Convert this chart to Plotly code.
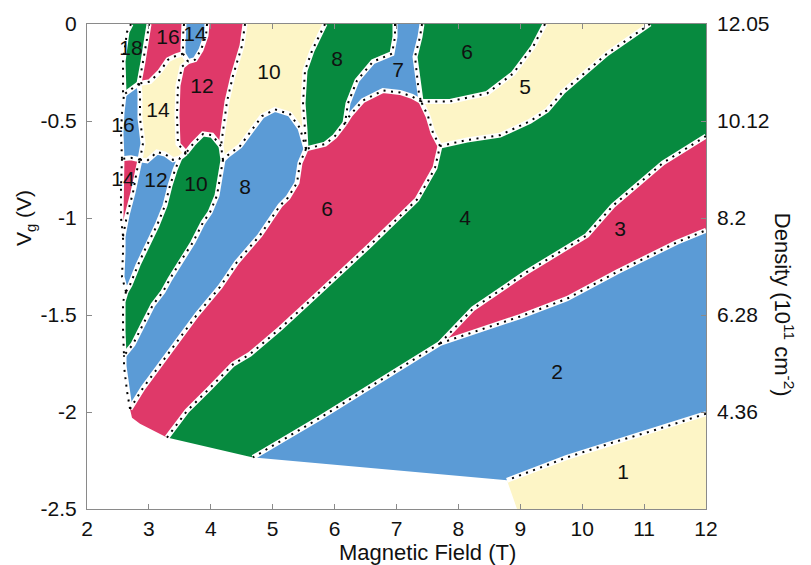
import plotly.graph_objects as go

# Fill colours of the quantum Hall phases
YELLOW = "#fdf5c6"
GREEN = "#078a3f"
PINK = "#df3969"
BLUE = "#5b9bd6"

# Phase boundaries as (B [T], Vg [V]) polylines; names give the two phases they separate
G18_W = [(2.711, 0.0), (2.646, -0.041), (2.582, -0.194), (2.582, -0.348), (2.598, -0.363)]
G18_P16 = [(3.002, 0.0), (2.969, -0.077), (2.905, -0.194), (2.840, -0.307)]
G18_B16 = [(2.840, -0.307), (2.711, -0.337), (2.598, -0.363)]
P16_B14 = [(3.567, 0.0), (3.551, -0.061), (3.551, -0.112), (3.551, -0.153)]
P16_Y14 = [(3.551, -0.153), (3.438, -0.164), (3.309, -0.184), (3.179, -0.245), (3.018, -0.297), (2.840, -0.307)]
B14_P12 = [(3.939, 0.0), (3.922, -0.061), (3.842, -0.133), (3.745, -0.184), (3.632, -0.194)]
B14_Y14 = [(3.551, -0.153), (3.632, -0.194)]
P12_Y10 = [(4.553, 0.0), (4.504, -0.112), (4.359, -0.266), (4.262, -0.399), (4.197, -0.552), (4.165, -0.629)]
P12_G10 = [(4.165, -0.629), (4.019, -0.573), (3.874, -0.567), (3.712, -0.619), (3.599, -0.665)]
P12_Y14 = [(3.599, -0.665), (3.470, -0.619), (3.454, -0.470), (3.470, -0.317), (3.535, -0.220), (3.632, -0.194)]
Y10_G8 = [(5.845, 0.0), (5.635, -0.138), (5.522, -0.240), (5.490, -0.409), (5.522, -0.547), (5.538, -0.644)]
Y10_B8 = [(5.538, -0.644), (5.441, -0.537), (5.279, -0.465), (5.037, -0.440), (4.827, -0.475),
          (4.666, -0.547), (4.472, -0.629), (4.278, -0.675), (4.197, -0.700)]
Y10_G10 = [(4.197, -0.700), (4.165, -0.629)]
G8_B7 = [(6.976, 0.0), (6.976, -0.066), (6.927, -0.153), (6.620, -0.194), (6.362, -0.291), (6.216, -0.409), (6.168, -0.511)]
G8_P6 = [(6.168, -0.511), (6.006, -0.578), (5.845, -0.619), (5.538, -0.644)]
B7_G6 = [(7.412, 0.0), (7.380, -0.066), (7.299, -0.169), (7.331, -0.256), (7.363, -0.358), (7.396, -0.399)]
B7_P6 = [(7.396, -0.399), (7.250, -0.373), (7.057, -0.353), (6.782, -0.343), (6.459, -0.394), (6.249, -0.470), (6.168, -0.511)]
G6_Y5 = [(9.399, 0.0), (9.205, -0.118), (8.882, -0.256), (8.462, -0.358), (7.864, -0.399), (7.396, -0.399)]
Y5_G4 = [(11.095, 0.0), (10.401, -0.153), (9.690, -0.348), (9.431, -0.445), (9.157, -0.501),
         (8.672, -0.573), (8.139, -0.598), (7.703, -0.629)]
Y5_P6 = [(7.703, -0.629), (7.590, -0.562), (7.509, -0.475), (7.396, -0.399)]
G4_P3 = [(12.0, -0.578), (11.305, -0.716), (10.498, -0.936), (10.078, -1.089), (9.108, -1.278), (8.236, -1.467), (7.703, -1.646)]
G4_B2 = [(7.703, -1.646), (7.057, -1.774), (5.764, -2.030), (4.682, -2.234)]
G4_P6 = [(3.292, -2.132), (3.616, -1.994), (3.987, -1.876), (4.359, -1.754), (4.633, -1.702), (5.118, -1.570),
         (5.764, -1.380), (6.572, -1.140), (7.331, -0.905), (7.493, -0.818), (7.622, -0.741), (7.703, -0.629)]
P3_B2 = [(7.703, -1.646), (8.624, -1.549), (8.995, -1.508), (9.754, -1.416), (10.562, -1.278), (11.531, -1.125), (12.0, -1.063)]
B2_Y1 = [(12.0, -2.009), (11.144, -2.096), (10.498, -2.157), (9.754, -2.234), (8.785, -2.352)]
B8_P6 = [(5.538, -0.644), (5.441, -0.716), (5.393, -0.818), (5.247, -0.895), (5.118, -0.936), (4.795, -1.089),
         (4.423, -1.227), (4.149, -1.355), (3.777, -1.498), (3.422, -1.651), (3.131, -1.774), (2.905, -1.876), (2.695, -1.984)]
B8_W = [(2.695, -1.984), (2.646, -1.892), (2.598, -1.764), (2.598, -1.708)]
G10_B8 = [(4.197, -0.700), (4.149, -0.782), (4.100, -0.884), (3.987, -0.971), (3.874, -1.023), (3.712, -1.125),
          (3.502, -1.227), (3.341, -1.314), (3.228, -1.380), (3.066, -1.447), (2.889, -1.559), (2.743, -1.651), (2.598, -1.708)]
G10_Y14 = [(3.599, -0.665), (3.502, -0.690)]
G10_B12 = [(3.502, -0.690), (3.422, -0.752), (3.341, -0.833), (3.260, -0.936), (3.131, -1.038),
           (2.969, -1.140), (2.824, -1.242), (2.695, -1.345), (2.630, -1.380)]
G10_W = [(2.630, -1.380), (2.582, -1.432), (2.582, -1.585), (2.598, -1.708)]
B12_W = [(2.630, -1.380), (2.565, -1.304), (2.582, -1.176), (2.582, -1.094)]
B12_P14 = [(2.582, -1.094), (2.646, -0.987), (2.743, -0.869), (2.808, -0.752), (2.856, -0.700)]
B12_Y14 = [(2.856, -0.700), (2.969, -0.706), (3.131, -0.660), (3.260, -0.670), (3.389, -0.700), (3.502, -0.690)]
B16_P14 = [(2.856, -0.700), (2.711, -0.690), (2.565, -0.695)]
P14_W = [(2.565, -0.695), (2.549, -0.844), (2.549, -0.997), (2.582, -1.094)]
B16_Y14 = [(2.840, -0.307), (2.856, -0.358), (2.856, -0.486), (2.905, -0.614), (2.856, -0.700)]
B16_W = [(2.565, -0.695), (2.549, -0.562), (2.565, -0.460), (2.598, -0.363)]

# Outer outlines of the measured area (not phase boundaries)
G4_EDGE_TOP = [(11.095, 0.0), (12.0, 0.0), (12.0, -0.578)]
G4_EDGE_BOTTOM = [(4.682, -2.234), (3.292, -2.132)]
P6_EDGE_BOTTOM = [(3.292, -2.132), (3.228, -2.122), (2.856, -2.060), (2.727, -2.030), (2.695, -1.984)]
B2_EDGE_BOTTOM = [(8.785, -2.352), (7.057, -2.301), (5.764, -2.265), (4.682, -2.234)]
Y1_EDGE = [(12.0, -2.009), (12.0, -2.5), (8.947, -2.5), (8.785, -2.352)]

PHASE_LINES = [G18_W, G18_P16, G18_B16, P16_B14, P16_Y14, B14_P12, B14_Y14, P12_Y10, P12_G10, P12_Y14,
               Y10_G8, Y10_B8, Y10_G10, G8_B7, G8_P6, B7_G6, B7_P6, G6_Y5, Y5_G4, Y5_P6, G4_P3, G4_B2,
               G4_P6, P3_B2, B2_Y1, B8_P6, B8_W, G10_B8, G10_Y14, G10_B12, G10_W, B12_W, B12_P14,
               B12_Y14, B16_P14, P14_W, B16_Y14, B16_W]

# Each phase region: fill colour and its outline as (boundary, walk backwards?)
REGIONS = [
    (GREEN, [(G18_P16, False), (G18_B16, False), (G18_W, True)]),
    (PINK, [(P16_B14, False), (P16_Y14, False), (G18_P16, True)]),
    (BLUE, [(B14_P12, False), (B14_Y14, True), (P16_B14, True)]),
    (PINK, [(P12_Y10, False), (P12_G10, False), (P12_Y14, False), (B14_P12, True)]),
    (YELLOW, [(Y10_G8, False), (Y10_B8, False), (Y10_G10, False), (P12_Y10, True)]),
    (GREEN, [(G8_B7, False), (G8_P6, False), (Y10_G8, True)]),
    (BLUE, [(B7_G6, False), (B7_P6, False), (G8_B7, True)]),
    (GREEN, [(G6_Y5, False), (B7_G6, True)]),
    (YELLOW, [(Y5_G4, False), (Y5_P6, False), (G6_Y5, True)]),
    (GREEN, [(G4_P3, False), (G4_B2, False), (G4_EDGE_BOTTOM, False), (G4_P6, False), (Y5_G4, True), (G4_EDGE_TOP, False)]),
    (PINK, [(G4_P3, False), (P3_B2, False)]),
    (BLUE, [(G4_B2, True), (P3_B2, False), (B2_Y1, False), (B2_EDGE_BOTTOM, False)]),
    (YELLOW, [(B2_Y1, True), (Y1_EDGE, False)]),
    (PINK, [(G8_P6, True), (B7_P6, True), (Y5_P6, True), (G4_P6, True), (P6_EDGE_BOTTOM, False), (B8_P6, True)]),
    (BLUE, [(B8_P6, False), (B8_W, False), (G10_B8, True), (Y10_B8, True)]),
    (GREEN, [(P12_G10, False), (G10_Y14, False), (G10_B12, False), (G10_W, False), (G10_B8, True), (Y10_G10, False)]),
    (BLUE, [(G10_B12, False), (B12_W, False), (B12_P14, False), (B12_Y14, False)]),
    (PINK, [(B16_P14, False), (P14_W, False), (B12_P14, False)]),
    (BLUE, [(G18_B16, True), (B16_Y14, False), (B16_P14, False), (B16_W, False)]),
    (YELLOW, [(B16_Y14, False), (B12_Y14, False), (G10_Y14, True), (P12_Y14, False), (B14_Y14, True), (P16_Y14, False)]),
]

# Filling-factor labels
LABEL_TEXT = ["18", "16", "14", "12", "10", "8", "7", "6", "5", "14", "16", "14", "12", "10", "8", "6", "4", "3", "2", "1"]
LABEL_B = [2.711, 3.309, 3.745, 3.858, 4.940, 6.039, 7.024, 8.139, 9.076, 3.147, 2.582, 2.582, 3.115, 3.761,
           4.553, 5.877, 8.107, 10.611, 9.593, 10.659]
LABEL_VG = [-0.133, -0.077, -0.061, -0.327, -0.256, -0.189, -0.245, -0.153, -0.332, -0.450, -0.532, -0.808,
            -0.813, -0.833, -0.849, -0.961, -1.007, -1.068, -1.805, -2.316]

# Axis ticks
B_TICKS = [2, 3, 4, 5, 6, 7, 8, 9, 10, 11, 12]
VG_TICKS = [0, -0.5, -1, -1.5, -2, -2.5]
VG_TICK_TEXT = ["0", "-0.5", "-1", "-1.5", "-2", "-2.5"]
DENSITY_TICKS = [0, -0.5, -1, -1.5, -2]
DENSITY_TEXT = ["12.05", "10.12", "8.2", "6.28", "4.36"]


def ring(parts):
    bs, vs = [], []
    for line, backwards in parts:
        pts = line[::-1] if backwards else line
        for b, v in pts:
            bs.append(b)
            vs.append(v)
    return bs, vs


def joined(lines):
    bs, vs = [], []
    for line in lines:
        bs += [p[0] for p in line] + [None]
        vs += [p[1] for p in line] + [None]
    return bs, vs


fig = go.Figure()

for colour, parts in REGIONS:
    bs, vs = ring(parts)
    fig.add_trace(go.Scatter(x=bs, y=vs, mode="lines", fill="toself", fillcolor=colour,
                             line=dict(width=0), hoverinfo="skip"))

lx, ly = joined(PHASE_LINES)
fig.add_trace(go.Scatter(x=lx, y=ly, mode="lines", line=dict(color="white", width=5),
                         connectgaps=False, hoverinfo="skip"))
fig.add_trace(go.Scatter(x=lx, y=ly, mode="lines", line=dict(color="black", width=2, dash="2px,5.5px"),
                         connectgaps=False, hoverinfo="skip"))

fig.add_trace(go.Scatter(x=LABEL_B, y=LABEL_VG, mode="text", text=LABEL_TEXT,
                         textposition="middle center",
                         textfont=dict(size=21, color="#111111"), hoverinfo="skip"))

# carrier for the density axis
fig.add_trace(go.Scatter(x=[2], y=[-2.5], yaxis="y2", mode="markers",
                         marker=dict(opacity=0), hoverinfo="skip"))

AX = "#8a8a8a"
FONT = "Liberation Sans, Arial, Helvetica, sans-serif"

fig.update_layout(
    width=811, height=565,
    margin=dict(l=87, r=105, t=20, b=56),
    paper_bgcolor="white", plot_bgcolor="white",
    showlegend=False,
    font=dict(family=FONT, color="#111111", size=20),
    xaxis=dict(range=[2, 12], tickvals=B_TICKS, ticks="inside", ticklen=5, tickcolor=AX,
               showline=True, linecolor=AX, linewidth=1, mirror="ticks",
               showgrid=False, zeroline=False, tickfont=dict(size=21), ticklabelstandoff=1),
    yaxis=dict(range=[-2.5, 0], tickvals=VG_TICKS, ticktext=VG_TICK_TEXT, ticks="inside", ticklen=5,
               tickcolor=AX, showline=True, linecolor=AX, linewidth=1, mirror=True,
               showgrid=False, zeroline=False, tickfont=dict(size=21), ticklabelstandoff=5),
    yaxis2=dict(range=[-2.5, 0], overlaying="y", side="right", tickvals=DENSITY_TICKS,
                ticktext=DENSITY_TEXT, ticks="inside", ticklen=5, tickcolor=AX, showline=False,
                showgrid=False, zeroline=False, tickfont=dict(size=21), ticklabelstandoff=10),
    annotations=[
        dict(text="Magnetic Field (T)", xref="paper", yref="paper", x=0.55, y=-0.09,
             xanchor="center", yanchor="middle", showarrow=False, font=dict(size=22)),
        dict(text="V<sub>g</sub> (V)", xref="paper", yref="paper", x=-0.1, y=0.6,
             xanchor="center", yanchor="middle", textangle=-90, showarrow=False, font=dict(size=21)),
        dict(text="Density (10<sup>11</sup> cm<sup>-2</sup>)", xref="paper", yref="paper", x=1.126, y=0.421,
             xanchor="center", yanchor="middle", textangle=90, showarrow=False, font=dict(size=22)),
    ],
)

fig.write_html("out.html")
